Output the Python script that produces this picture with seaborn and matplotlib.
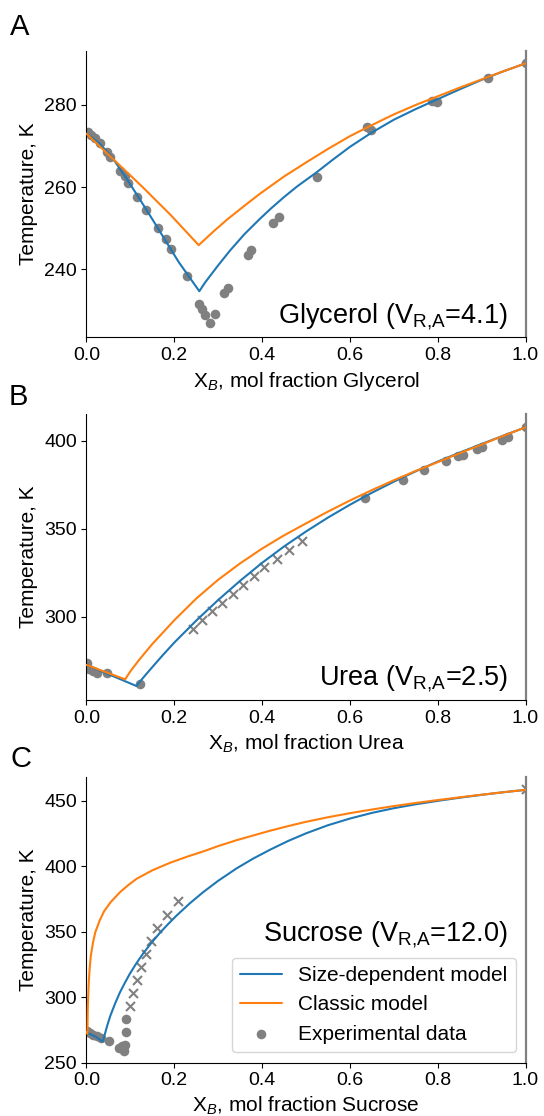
import numpy as np
import pandas as pd
import seaborn as sns
import matplotlib.pyplot as plt

# Panel A: glycerol
gly_size_x = [0.0, 0.03, 0.06, 0.09, 0.12, 0.15, 0.18, 0.21, 0.257, 0.27, 0.28, 0.30, 0.327, 0.36, 0.395,
              0.42, 0.45, 0.48, 0.524, 0.56, 0.60, 0.65, 0.70, 0.75, 0.80, 0.85, 0.90, 0.95, 1.0]
gly_size_T = [273.0, 270.6, 267.0, 262.3, 257.3, 252.2, 247.0, 241.8, 234.7, 236.8, 238.2, 241.0, 244.6, 248.6, 252.3,
              254.8, 257.6, 260.2, 263.6, 266.6, 269.8, 273.3, 276.4, 279.0, 281.4, 283.8, 286.1, 288.2, 290.1]
gly_classic_x = [0.0, 0.064, 0.128, 0.192, 0.2556, 0.29, 0.32, 0.36, 0.395, 0.45, 0.50, 0.55, 0.60, 0.65,
                 0.70, 0.75, 0.80, 0.85, 0.90, 0.95, 1.0]
gly_classic_T = [273.0, 266.5, 260.0, 253.2, 245.9, 249.3, 252.1, 255.5, 258.4, 262.6, 266.0, 269.3, 272.4, 275.1,
                 277.7, 280.0, 282.1, 284.2, 286.2, 288.2, 290.1]
gly_dot_x = [0.004, 0.011, 0.020, 0.031, 0.046, 0.053, 0.076, 0.088, 0.095, 0.114, 0.136, 0.164, 0.181, 0.192,
             0.228, 0.257, 0.262, 0.270, 0.281, 0.293, 0.313, 0.323, 0.369, 0.374, 0.424, 0.439, 0.524,
             0.638, 0.647, 0.786, 0.799, 0.915, 1.0]
gly_dot_T = [273.3, 272.7, 271.9, 270.7, 268.6, 267.4, 264.0, 262.6, 261.1, 257.7, 254.5, 250.1, 247.3, 245.0,
             238.4, 231.6, 230.3, 228.9, 226.9, 229.1, 234.2, 235.6, 243.5, 244.7, 251.2, 252.8, 262.4,
             274.7, 273.9, 281.0, 280.7, 286.6, 290.1]

# Panel B: urea
urea_size_x = [0.0, 0.114, 0.12, 0.13, 0.15, 0.175, 0.20, 0.25, 0.30, 0.35, 0.40, 0.45, 0.50, 0.55, 0.60,
               0.65, 0.70, 0.75, 0.80, 0.85, 0.90, 0.95, 1.0]
urea_size_T = [272.6, 260.6, 262.6, 265.6, 271.4, 278.5, 285.3, 297.8, 309.5, 320.4, 330.6, 339.9, 348.4, 356.3, 363.6,
               370.4, 376.7, 382.6, 388.1, 393.2, 398.1, 402.9, 407.6]
urea_classic_x = [0.0, 0.088, 0.10, 0.12, 0.15, 0.20, 0.25, 0.30, 0.35, 0.40, 0.45, 0.50, 0.55, 0.60,
                  0.65, 0.70, 0.75, 0.80, 0.85, 0.90, 0.95, 1.0]
urea_classic_T = [272.6, 264.4, 269.0, 275.5, 284.5, 298.0, 310.3, 321.0, 330.3, 338.7, 346.2, 353.0, 359.7, 366.0,
                  371.9, 377.5, 382.8, 387.8, 392.9, 397.8, 402.8, 407.6]
urea_dot_x = [0.002, 0.006, 0.014, 0.023, 0.046, 0.122, 0.634, 0.722, 0.769, 0.820, 0.847, 0.858, 0.890, 0.900, 0.946, 0.959, 1.0]
urea_dot_T = [273.5, 270.1, 269.1, 267.8, 267.8, 261.6, 367.3, 377.7, 383.4, 388.6, 391.3, 391.9, 395.3, 396.6, 400.4, 401.9, 408.0]
urea_cross_x = [0.243, 0.262, 0.285, 0.308, 0.334, 0.357, 0.382, 0.404, 0.435, 0.462, 0.490]
urea_cross_T = [293.0, 298.0, 303.0, 308.0, 313.0, 318.0, 323.0, 328.0, 333.0, 338.0, 343.0]

# Panel C: sucrose
suc_size_x = [0.0, 0.02, 0.037, 0.042, 0.047, 0.054, 0.065, 0.076, 0.088, 0.099, 0.114, 0.129, 0.148, 0.167,
              0.186, 0.205, 0.235, 0.266, 0.30, 0.342, 0.38, 0.418, 0.46, 0.50, 0.55, 0.60, 0.65, 0.70,
              0.75, 0.80, 0.85, 0.90, 0.95, 1.0]
suc_size_T = [273.0, 270.0, 266.0, 272.0, 278.0, 285.5, 295.0, 303.5, 311.3, 318.0, 326.0, 333.3, 341.5, 349.0,
              355.8, 362.2, 371.5, 380.2, 388.8, 398.3, 405.8, 412.5, 419.3, 425.0, 431.2, 436.3, 440.6, 444.2,
              447.2, 449.8, 452.2, 454.4, 456.4, 458.2]
suc_classic_x = [0.0, 0.002, 0.003, 0.004, 0.005, 0.007, 0.01, 0.015, 0.02, 0.03, 0.04, 0.055, 0.076, 0.095,
                 0.114, 0.15, 0.19, 0.23, 0.266, 0.30, 0.342, 0.38, 0.418, 0.46, 0.50, 0.55, 0.60, 0.65,
                 0.70, 0.75, 0.80, 0.85, 0.90, 0.95, 1.0]
suc_classic_T = [273.0, 272.0, 293.0, 302.0, 310.0, 321.0, 332.0, 342.0, 349.5, 358.5, 365.5, 372.5, 380.0, 385.5,
                 390.3, 396.8, 402.5, 407.3, 411.2, 415.3, 419.8, 423.4, 427.0, 430.6, 433.8, 437.3, 440.4, 443.2,
                 445.8, 448.2, 450.4, 452.5, 454.5, 456.4, 458.2]
suc_dot_x = [0.002, 0.008, 0.015, 0.023, 0.033, 0.052, 0.074, 0.082, 0.086, 0.088, 0.089, 0.091]
suc_dot_T = [274.0, 272.5, 271.2, 270.4, 268.8, 266.4, 261.5, 262.8, 259.0, 263.8, 273.6, 283.6]
suc_cross_x = [0.099, 0.107, 0.114, 0.124, 0.136, 0.148, 0.161, 0.183, 0.209, 1.0]
suc_cross_T = [293.0, 303.0, 313.0, 323.0, 333.0, 343.0, 353.0, 363.0, 373.0, 458.5]

BLUE = '#1f77b4'
ORANGE = '#ff7f0e'
GRAY = '#808080'

sns.set_style('ticks', rc={'axes.edgecolor': 'black', 'xtick.color': 'black',
                           'ytick.color': 'black', 'text.color': 'black',
                           'axes.labelcolor': 'black'})
plt.rcParams['font.family'] = ['Liberation Sans', 'DejaVu Sans']
plt.rcParams['mathtext.fontset'] = 'custom'
plt.rcParams['mathtext.rm'] = 'Liberation Sans'
plt.rcParams['mathtext.it'] = 'Liberation Sans:italic'
plt.rcParams['mathtext.bf'] = 'Liberation Sans:bold'


def draw_panel(ax, size_x, size_T, classic_x, classic_T, dot_x, dot_T,
               cross_x, cross_T, solute, ylim, yticks, text, text_y, legend=False):
    sns.lineplot(x=size_x, y=size_T, ax=ax, color=BLUE, linewidth=1.5, sort=False,
                 estimator=None, zorder=3, label='Size-dependent model' if legend else None)
    sns.lineplot(x=classic_x, y=classic_T, ax=ax, color=ORANGE, linewidth=1.5, sort=False,
                 estimator=None, zorder=3, label='Classic model' if legend else None)
    sns.scatterplot(x=dot_x, y=dot_T, ax=ax, color=GRAY, s=48, linewidth=0, zorder=2,
                    label='Experimental data' if legend else None)
    if cross_x:
        sns.scatterplot(x=cross_x, y=cross_T, ax=ax, color=GRAY, marker='x', s=42,
                        linewidth=1.5, zorder=2)
    ax.set_xlim(0, 1)
    ax.set_ylim(*ylim)
    ax.set_yticks(yticks)
    ax.set_xticks([0.0, 0.2, 0.4, 0.6, 0.8, 1.0])
    ax.tick_params(labelsize=14)
    ax.set_xlabel('X$_B$, mol fraction ' + solute, fontsize=15)
    ax.set_ylabel('Temperature, K', fontsize=15)
    ax.spines['top'].set_visible(False)
    ax.spines['right'].set_color(GRAY)
    ax.spines['right'].set_linewidth(1.6)
    ax.text(0.96, text_y, text, transform=ax.transAxes, ha='right', va='baseline', fontsize=19.5)
    if legend:
        ax.legend(loc='lower right', bbox_to_anchor=(0.978, 0.037), borderaxespad=0, fontsize=15)


fig = plt.figure(figsize=(5.44, 11.16), dpi=100)
ax_a = fig.add_axes([0.159, 0.6978, 0.807, 0.2568])
ax_b = fig.add_axes([0.159, 0.3728, 0.807, 0.2560])
ax_c = fig.add_axes([0.159, 0.0478, 0.807, 0.2563])

draw_panel(ax_a, gly_size_x, gly_size_T, gly_classic_x, gly_classic_T, gly_dot_x, gly_dot_T,
           [], [], 'Glycerol', (223.5, 293.2), [240, 260, 280],
           'Glycerol (V$_{\\rm R{,}A}$=4.1)', 0.05)
draw_panel(ax_b, urea_size_x, urea_size_T, urea_classic_x, urea_classic_T, urea_dot_x, urea_dot_T,
           urea_cross_x, urea_cross_T, 'Urea', (252.7, 415.0), [300, 350, 400],
           'Urea (V$_{\\rm R{,}A}$=2.5)', 0.052)
draw_panel(ax_c, suc_size_x, suc_size_T, suc_classic_x, suc_classic_T, suc_dot_x, suc_dot_T,
           suc_cross_x, suc_cross_T, 'Sucrose', (250, 468.3), [250, 300, 350, 400, 450],
           'Sucrose (V$_{\\rm R{,}A}$=12.0)', 0.4255, legend=True)

fig.text(0.018, 0.9686, 'A', fontsize=21, va='baseline')
fig.text(0.015, 0.6371, 'B', fontsize=21, va='baseline')
fig.text(0.020, 0.3127, 'C', fontsize=21, va='baseline')

fig.savefig('out.png', dpi=100)
